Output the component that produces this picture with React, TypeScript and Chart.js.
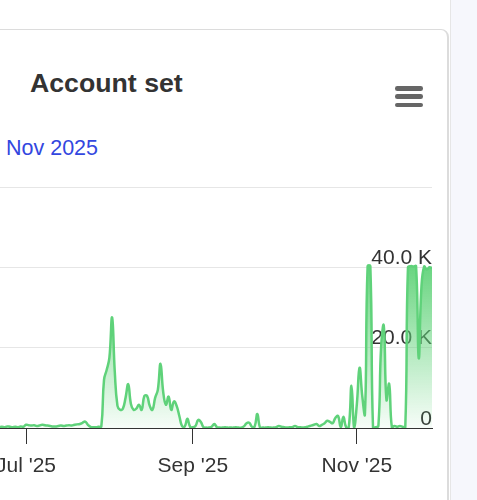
import { useEffect, useRef } from 'react';
import { Chart, registerables } from 'chart.js';

Chart.register(...registerables);

const title = 'Account set';
const subtitle = 'Nov 2025';

// first value is 21 Jun 2025, expressed as days relative to 1 Jul 2025
const firstDay = -10;
// daily values, in thousands
const dailyValuesK = [
  0.2, 0.3, 0.2, 0.4, 0.3, 0.2, 0.3, 0.2, 0.4, 0.3,
  0.8, 0.7, 0.6, 0.7, 0.5, 0.6, 0.8, 0.7, 0.6, 0.5,
  0.4, 0.4, 0.5, 0.6, 0.5, 0.6, 0.7, 0.6, 0.8, 0.9,
  1.0, 1.3, 1.6, 0.8, 0.3, 0.2, 0.2, 0.3, 0.4,
  12, 14.5, 17.5, 27.5, 14, 5.5, 4.5, 4.8, 7.5, 10.9, 6,
  4.5, 4.8, 5.8, 4.5, 8, 8, 5.5, 4.5, 7.5, 9.5,
  16, 9, 5.8, 7.8, 4.5, 6.6, 5.5, 3, 0.5, 0.4,
  2.3, 0.3, 0.2, 0.5, 2, 1.5, 0.2, 0.1, 0.1, 0.3,
  1.0, 0.2, 0.1, 0.1, 0.2, 0.1, 0.1, 0.1, 0.2, 0.1,
  0.1, 0.4, 1.2, 1.3, 0.3, 0.4, 3.5, 0.1, 0.1, 0.1,
  0.2, 0.1, 0.1, 0.2, 0.5, 0.3, 0.2, 0.1, 0.2, 0.2,
  0.5, 0.2, 0.2, 0.1, 0.2, 0.4, 0.6, 0.8, 1.0, 0.5,
  0.8, 1.2, 1.8, 1.5, 1.2, 2.5, 3, 0.2, 2.8, 0.2,
  0.3, 10.5, 0, 6, 15, 8, 3.5, 40.3, 40.3, 0.2,
  0.2, 0.5, 20, 25.5, 7, 11, 0.2, 0.5, 0.3, 0.5,
  0.3, 0.2, 40, 40.3, 40.2, 40.3, 17.4, 35, 40.2, 39.5,
  40, 39.8,
];

const xTickDays = [0, 62, 123];
const xTickLabels = ["Jul '25", "Sep '25", "Nov '25"];
const yTicksK = [0, 20, 40, 60];
const yTickLabels = ['0', '20.0 K', '40.0 K', ''];

const FONT = '"Liberation Sans", Arial, Helvetica, sans-serif';

function ChartCanvas() {
  const ref = useRef<HTMLCanvasElement | null>(null);
  useEffect(() => {
    if (!ref.current) return;
    const points = dailyValuesK.map((v, i) => ({ x: firstDay + i, y: v }));
    const chart = new Chart(ref.current, {
      type: 'line',
      data: {
        datasets: [
          {
            data: points,
            borderColor: '#5fd27a',
            borderWidth: 2.5,
            pointRadius: 0,
            tension: 0.45,
            fill: 'origin',
            backgroundColor: (ctx: any) => {
              const { chart: ch } = ctx;
              const area = ch.chartArea;
              if (!area) return 'rgba(95,210,120,0.4)';
              const g = ch.ctx.createLinearGradient(0, area.top, 0, area.bottom);
              g.addColorStop(0, 'rgba(85,205,110,1)');
              g.addColorStop(0.34, 'rgba(95,210,120,0.92)');
              g.addColorStop(1, 'rgba(95,210,120,0.05)');
              return g;
            },
          },
        ],
      },
      options: {
        responsive: false,
        animation: false,
        layout: { padding: { left: 60, right: 8, top: 17, bottom: 4.8 } },
        plugins: { legend: { display: false }, tooltip: { enabled: false } },
        scales: {
          x: {
            type: 'linear',
            min: -9.67,
            max: 150.93,
            afterBuildTicks: (scale: any) => {
              scale.ticks = xTickDays.map((v) => ({ value: v }));
            },
            ticks: {
              autoSkip: false,
              maxRotation: 0,
              padding: 10,
              color: '#333333',
              font: { family: FONT, size: 21 },
              callback: (v: any) => xTickLabels[xTickDays.indexOf(Number(v))] ?? '',
            },
            grid: {
              display: true,
              drawOnChartArea: false,
              drawTicks: true,
              tickLength: 16,
              color: '#333333',
              lineWidth: 1,
            },
            border: { display: true, color: '#333333', width: 1 },
          },
          y: {
            type: 'linear',
            position: 'right',
            min: 0,
            max: 60,
            afterBuildTicks: (scale: any) => {
              scale.ticks = yTicksK.map((v) => ({ value: v }));
            },
            ticks: {
              mirror: true,
              padding: 0,
              labelOffset: -9,
              color: '#333333',
              font: { family: FONT, size: 21 },
              callback: (v: any) => yTickLabels[yTicksK.indexOf(Number(v))] ?? '',
            },
            grid: {
              drawTicks: false,
              color: (c: any) => (c.tick && c.tick.value === 0 ? 'rgba(0,0,0,0)' : '#e6e6e6'),
              lineWidth: 1,
            },
            border: { display: false },
          },
        },
      },
    } as any);
    return () => chart.destroy();
  }, []);
  return (
    <canvas
      ref={ref}
      width={500}
      height={324}
      style={{ position: 'absolute', left: -60, top: 170, width: 500, height: 324 }}
    />
  );
}

export default function App() {
  useEffect(() => {
    document.body.style.margin = '0';
  }, []);
  return (
    <div
      style={{
        position: 'fixed',
        left: 0,
        top: 0,
        width: 477,
        height: 500,
        overflow: 'hidden',
        background: '#ffffff',
        fontFamily: FONT,
      }}
    >
      <div
        style={{
          position: 'absolute',
          left: -20,
          top: 29,
          width: 466,
          height: 520,
          border: '1px solid #dcdcdc',
          borderRightWidth: 2,
          borderRadius: 8,
          background: '#ffffff',
          boxSizing: 'content-box',
        }}
      />
      <div
        style={{
          position: 'absolute',
          left: 450,
          top: 0,
          width: 27,
          height: 500,
          background: '#f6f7fc',
          borderLeft: '1px solid #e6e6e6',
        }}
      />
      <div
        style={{
          position: 'absolute',
          left: 30,
          top: 66,
          fontSize: 26.7,
          fontWeight: 'bold',
          color: '#333333',
          lineHeight: '34px',
          whiteSpace: 'nowrap',
        }}
      >
        {title}
      </div>
      <div
        style={{
          position: 'absolute',
          left: 6,
          top: 134,
          fontSize: 21.5,
          color: '#3347df',
          lineHeight: '28px',
          whiteSpace: 'nowrap',
        }}
      >
        {subtitle}
      </div>
      {[86, 94.3, 102.7].map((t) => (
        <div
          key={t}
          style={{
            position: 'absolute',
            left: 395,
            top: t,
            width: 28,
            height: 4.6,
            borderRadius: 2.3,
            background: '#666666',
          }}
        />
      ))}
      <ChartCanvas />
    </div>
  );
}
